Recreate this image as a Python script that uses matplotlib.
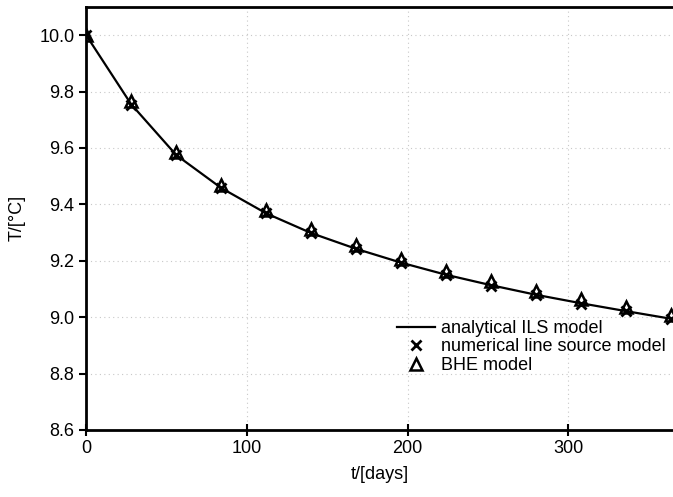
import matplotlib
matplotlib.use("Agg")
import matplotlib.pyplot as plt
import numpy as np

# time in days, sampled every 4 weeks
t_days = [0, 28, 56, 84, 112, 140, 168, 196, 224, 252, 280, 308, 336, 364]

# analytical ILS model
t_line = [0, 28, 56, 84, 112, 140, 168, 196, 224, 252, 280, 308, 336, 365]
T_ils = [10.0, 9.755, 9.575, 9.458, 9.368, 9.298, 9.242,
         9.193, 9.150, 9.113, 9.079, 9.049, 9.021, 8.993]

# numerical line source model
T_num = [10.0, 9.753, 9.574, 9.457, 9.368, 9.298, 9.241, 9.193, 9.150, 9.112,
         9.079, 9.048, 9.020, 8.995]

# BHE model
T_bhe = [10.0, 9.765, 9.585, 9.468, 9.381, 9.311, 9.256, 9.207, 9.164, 9.127,
         9.093, 9.063, 9.035, 9.006]

plt.rcParams['font.family'] = ['Liberation Sans', 'DejaVu Sans']

fig = plt.figure(figsize=(6.73, 4.97), dpi=100)
ax = fig.add_axes([0.128, 0.135, 0.872, 0.851])

ax.plot(t_line, T_ils, color='black', lw=1.6, label='analytical ILS model', zorder=3)
ax.plot(t_days, T_num, ls='none', marker='x', ms=7, mew=2, color='black',
        label='numerical line source model', zorder=4)
ax.plot(t_days, T_bhe, ls='none', marker='^', ms=8, mew=1.8, mfc='none', mec='black',
        label='BHE model', zorder=4)

ax.set_xlim(0, 365)
ax.set_ylim(8.6, 10.1)
ax.set_xticks([0, 100, 200, 300])
ax.set_yticks([8.6, 8.8, 9.0, 9.2, 9.4, 9.6, 9.8, 10.0])
ax.yaxis.set_major_formatter(matplotlib.ticker.FormatStrFormatter('%.1f'))

ax.grid(True, ls=(0, (1, 3)), color='#c8c8c8', lw=0.8)
for s in ax.spines.values():
    s.set_linewidth(2)
ax.spines['right'].set_visible(False)

ax.tick_params(axis='x', direction='inout', length=8, width=1.5, labelsize=13)
ax.tick_params(axis='y', direction='out', length=5, width=1.5, labelsize=13)

ax.set_xlabel('t/[days]', fontsize=13, labelpad=6)
ax.set_ylabel('T/[°C]', fontsize=13, labelpad=10)

ax.legend(loc='upper left', bbox_to_anchor=(0.53, 0.26), frameon=False, fontsize=13,
          handlelength=2.1, handletextpad=0.3, labelspacing=0.08, borderpad=0,
          borderaxespad=0)

fig.savefig('out.png', dpi=100)
